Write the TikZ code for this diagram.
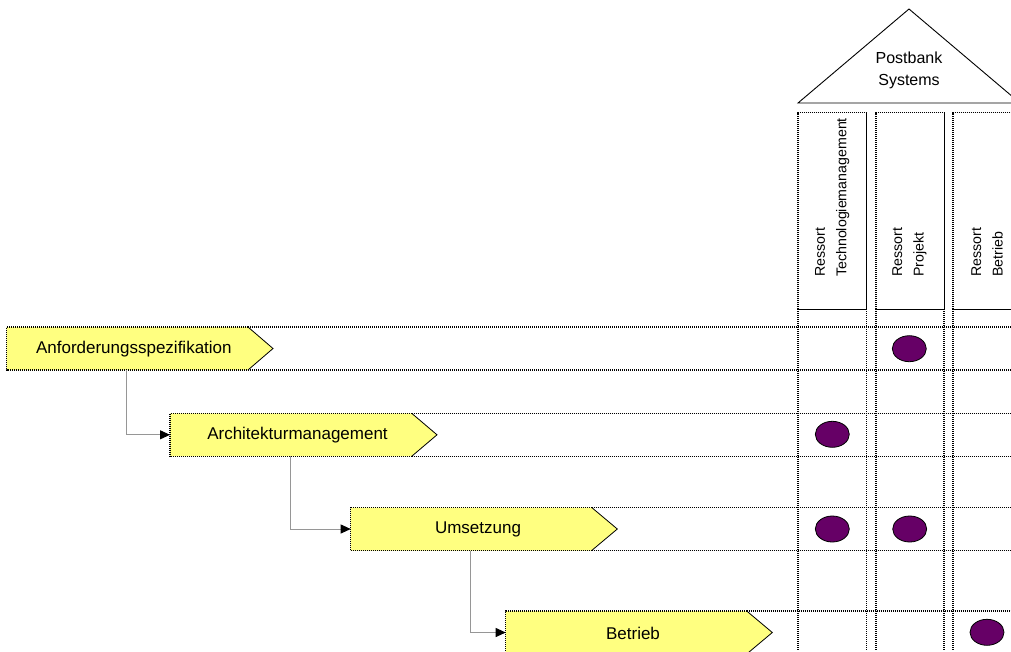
\documentclass[tikz,border=0pt]{standalone}
\usepackage{fontspec}
\setmainfont{Liberation Sans}
\usetikzlibrary{arrows.meta,shapes.geometric}

\definecolor{stepfill}{RGB}{255,255,128}
\definecolor{markfill}{RGB}{102,0,102}
\definecolor{linkgray}{RGB}{150,150,150}

% process step: name, left, top, body end, tip, label
\newcommand\procstep[6]{%
  \fill[stepfill] (#2,#3) -- (#4,#3) -- (#5,#3+21.5) -- (#4,#3+43) -- (#2,#3+43) -- cycle;
  \draw[dotline] (#4,#3) -- (#2,#3) -- (#2,#3+43) -- (#4,#3+43);
  \draw[tipline] (#4,#3) -- (#5,#3+21.5) -- (#4,#3+43);
  \node[steptext] (#1) at ({(#2+#5)/2-6},#3+22) {#6};
  \coordinate (#1-w) at (#2,#3+21.5);
  \coordinate (#1-drop) at (#2+120,#3+43);
  \draw[dotline] (#4,#3) -- (1011,#3);
  \draw[dotline] (#4,#3+43) -- (1011,#3+43);
}

\begin{document}
\begin{tikzpicture}[x=1pt,y=-1pt,
  dotline/.style={black, line width=1.1pt, dash pattern=on 1pt off 1pt},
  tipline/.style={black, line width=0.8pt},
  frameline/.style={black, line width=0.9pt},
  steptext/.style={inner sep=0pt, font=\fontsize{17}{20}\selectfont},
  coltext/.style={inner sep=0pt, rotate=90, anchor=west, align=left,
    font=\fontsize{14.2}{21.5}\selectfont},
  link/.style={linkgray, line width=0.9pt,
    -{Triangle[length=10pt,width=9pt,color=black]}},
  marker/.style={ellipse, draw=black, line width=0.8pt, fill=markfill,
    minimum width=34pt, minimum height=26pt, inner sep=0pt}]
\useasboundingbox (0,0) rectangle (1011,651);
\clip (0,0) rectangle (1011,651);

% roof
\draw[frameline] (798,103) -- (909,9) -- (1020,103) -- cycle;
\node[inner sep=0pt, align=center, font=\fontsize{16}{22}\selectfont] (roof) at (909,70) {Postbank\\Systems};

% pillars
\foreach \l/\r in {798/866.5, 876/944, 953/1021}{
  \draw[dotline] (\l,309) -- (\l,112.5) -- (\r,112.5);
  \draw[frameline] (\r,112.5) -- (\r,309) -- (\l,309);
  \draw[dotline] (\l,309) -- (\l,651);
  \draw[dotline] (\r,309) -- (\r,651);
}
\node[coltext] (col1) at (832.3,277) {Ressort\\Technologiemanagement};
\node[coltext] (col2) at (909.5,277) {Ressort\\Projekt};
\node[coltext] (col3) at (987,277) {Ressort\\Betrieb};

% process chain
\procstep{s1}{6.7}{327}{248}{273}{Anforderungsspezifikation}
\procstep{s2}{170}{413.3}{411.7}{437}{Architekturmanagement}
\procstep{s3}{350.7}{507.5}{591.7}{617.3}{Umsetzung}
\procstep{s4}{505.7}{611}{746.7}{772.3}{Betrieb}

\draw[link] (s1-drop) |- (s2-w);
\draw[link] (s2-drop) |- (s3-w);
\draw[link] (s3-drop) |- (s4-w);

% responsibilities
\node[marker] (m1) at (909.3,348.7) {};
\node[marker] (m2) at (832.3,434.3) {};
\node[marker] (m3) at (832.3,529) {};
\node[marker] (m4) at (909.7,529) {};
\node[marker] (m5) at (987,632.3) {};
\end{tikzpicture}
\end{document}
